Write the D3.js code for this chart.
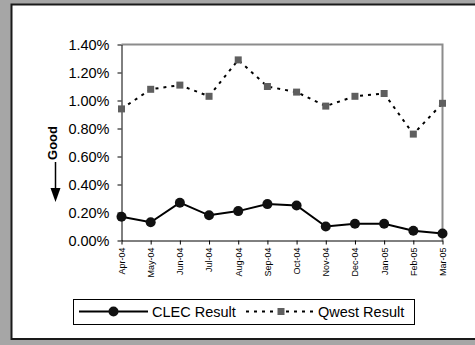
<!DOCTYPE html>
<html>
<head>
<meta charset="utf-8">
<script src="https://cdn.jsdelivr.net/npm/d3@7"></script>
<style>
  html, body { margin: 0; padding: 0; background: #a6a6a6; }
  svg { display: block; }
</style>
</head>
<body>
<svg id="chart" width="475" height="345"></svg>
<script>
const months = ["Apr-04","May-04","Jun-04","Jul-04","Aug-04","Sep-04","Oct-04","Nov-04","Dec-04","Jan-05","Feb-05","Mar-05"];
const clecResult  = [0.0017, 0.0013, 0.0027, 0.0018, 0.0021, 0.0026, 0.0025, 0.0010, 0.0012, 0.0012, 0.0007, 0.0005];
const qwestResult = [0.0094, 0.0108, 0.0111, 0.0103, 0.0129, 0.0110, 0.0106, 0.0096, 0.0103, 0.0105, 0.0076, 0.0098];
const yTicks = [0, 0.002, 0.004, 0.006, 0.008, 0.010, 0.012, 0.014];
const seriesNames = ["CLEC Result", "Qwest Result"];

const svg = d3.select("#chart");
const font = "'Liberation Sans', Arial, sans-serif";

// outer panel
svg.append("rect").attr("x", 0).attr("y", 0).attr("width", 475).attr("height", 345).attr("fill", "#a6a6a6");
svg.append("rect").attr("x", 11.5).attr("y", 4.5).attr("width", 480).attr("height", 334.5)
  .attr("fill", "#ffffff").attr("stroke", "#1a1a1a").attr("stroke-width", 2);

const pL = 121.5, pR = 442.5, pT = 44.5, pB = 240.5;
const x = d3.scalePoint().domain(months).range([pL, pR]);
const y = d3.scaleLinear().domain([0, 0.014]).range([pB, pT]);

// plot border (top/right gray)
svg.append("path")
  .attr("d", `M${pL},${pT}H${pR}V${pB}`)
  .attr("fill", "none").attr("stroke", "#8c8c8c").attr("stroke-width", 2);

// y axis
const yAxis = svg.append("g").attr("transform", `translate(${pL},0)`)
  .call(d3.axisLeft(y).tickValues(yTicks).tickFormat(d3.format(".2%")).tickSize(4).tickSizeOuter(0).tickPadding(8));
yAxis.select(".domain").attr("stroke", "#000");
yAxis.selectAll(".tick line").attr("stroke", "#000");
yAxis.selectAll("text").attr("font-family", font).attr("font-size", 14.5).attr("fill", "#000");

// x axis
const xAxis = svg.append("g").attr("transform", `translate(0,${pB})`)
  .call(d3.axisBottom(x).tickSize(4).tickSizeOuter(0).tickPadding(0));
xAxis.select(".domain").attr("stroke", "#000");
xAxis.selectAll(".tick line").attr("stroke", "#000");
xAxis.selectAll("text")
  .attr("font-family", font).attr("font-size", 9).attr("fill", "#000")
  .attr("text-anchor", "end")
  .attr("transform", "translate(0,7) rotate(-90)")
  .attr("x", 0).attr("y", 0).attr("dy", "0.32em");

// Qwest line (dashed) + squares
const line = d3.line().x((d, i) => x(months[i])).y(d => y(d));
svg.append("path").datum(qwestResult)
  .attr("d", line).attr("fill", "none").attr("stroke", "#000")
  .attr("stroke-width", 2).attr("stroke-dasharray", "3,5");
svg.append("g").selectAll("rect").data(qwestResult).join("rect")
  .attr("x", (d, i) => x(months[i]) - 3.5).attr("y", d => y(d) - 3.5)
  .attr("width", 7).attr("height", 7).attr("fill", "#5f5f5f");

// CLEC line + circles
svg.append("path").datum(clecResult)
  .attr("d", line).attr("fill", "none").attr("stroke", "#000").attr("stroke-width", 2);
svg.append("g").selectAll("circle").data(clecResult).join("circle")
  .attr("cx", (d, i) => x(months[i])).attr("cy", d => y(d)).attr("r", 5)
  .attr("fill", "#111");

// "Good" label with arrow
svg.append("text").attr("font-family", font).attr("font-size", 13).attr("font-weight", "bold")
  .attr("text-anchor", "middle")
  .attr("transform", "translate(57,143) rotate(-90)")
  .text("Good");
svg.append("line").attr("x1", 55.5).attr("x2", 55.5).attr("y1", 162).attr("y2", 190)
  .attr("stroke", "#000").attr("stroke-width", 1.5);
svg.append("path").attr("d", "M50.5,188 L60.5,188 L55.5,202 Z").attr("fill", "#000");

// legend
const lg = svg.append("g");
lg.append("rect").attr("x", 73.5).attr("y", 299.5).attr("width", 341).attr("height", 25)
  .attr("fill", "#fff").attr("stroke", "#000").attr("stroke-width", 1);
lg.append("line").attr("x1", 79).attr("x2", 148).attr("y1", 311.5).attr("y2", 311.5)
  .attr("stroke", "#000").attr("stroke-width", 2);
lg.append("circle").attr("cx", 113.5).attr("cy", 311.5).attr("r", 5).attr("fill", "#111");
lg.append("text").attr("x", 152).attr("y", 311.5).attr("dy", "0.35em")
  .attr("font-family", font).attr("font-size", 14.5).text(seriesNames[0]);
lg.append("line").attr("x1", 246).attr("x2", 318).attr("y1", 311.5).attr("y2", 311.5)
  .attr("stroke", "#000").attr("stroke-width", 2).attr("stroke-dasharray", "3,5");
lg.append("rect").attr("x", 277.5).attr("y", 308).attr("width", 7).attr("height", 7).attr("fill", "#5f5f5f");
lg.append("text").attr("x", 318).attr("y", 311.5).attr("dy", "0.35em")
  .attr("font-family", font).attr("font-size", 14.5).text(seriesNames[1]);
</script>
</body>
</html>
